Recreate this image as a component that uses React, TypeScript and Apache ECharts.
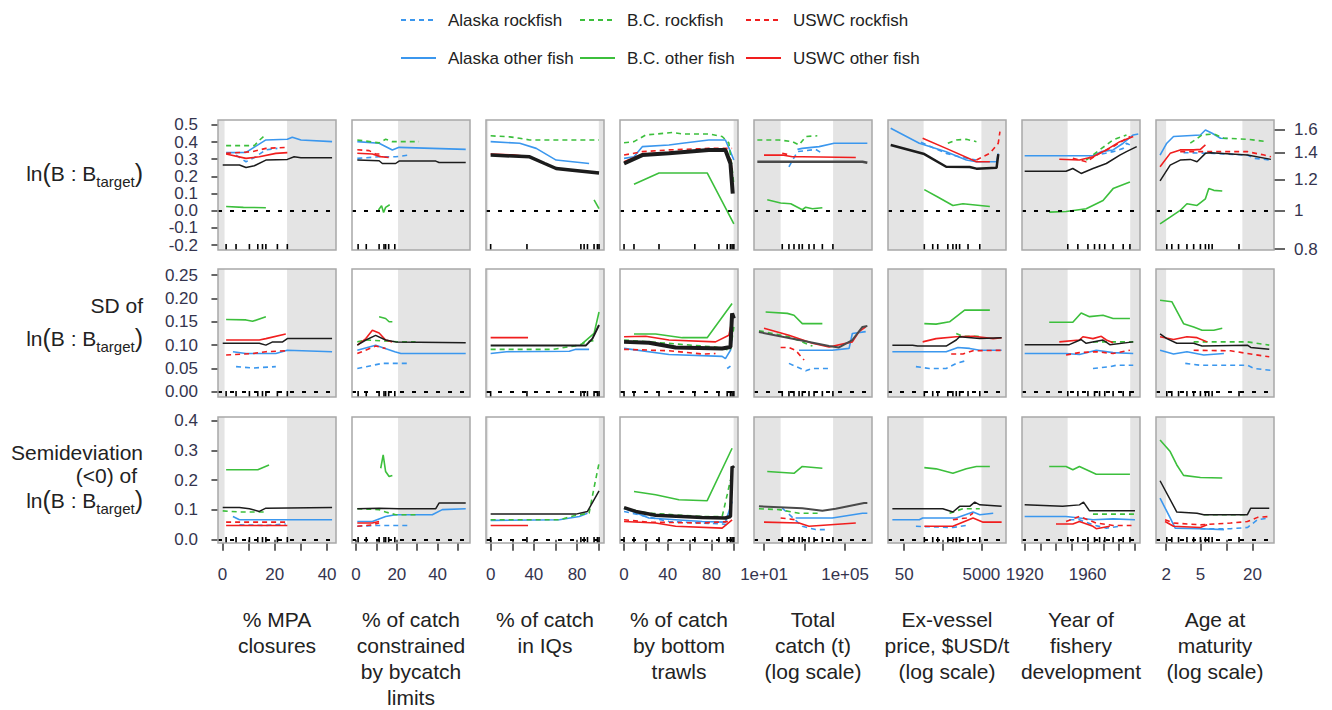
import { useEffect, useRef } from "react";
import * as echarts from "echarts";

type Pt = [number, number];
interface Panel { akR: Pt[]; akO: Pt[]; bcR: Pt[]; bcO: Pt[]; usR: Pt[]; usO: Pt[]; all: Pt[] }

// ---------- series meta ----------
const seriesKeys = ["akR", "akO", "bcR", "bcO", "usR", "usO"] as const;
const seriesNames = ["Alaska rockfish", "Alaska other fish", "B.C. rockfish", "B.C. other fish", "USWC rockfish", "USWC other fish"];
const seriesColors = ["#3b97ee", "#3b97ee", "#3cbf3c", "#3cbf3c", "#f01e1e", "#f01e1e"];
const seriesDashed = [true, false, true, false, true, false];

// ---------- columns (x variables) ----------
const xTitles = [
  "% MPA\nclosures",
  "% of catch\nconstrained\nby bycatch\nlimits",
  "% of catch\nin IQs",
  "% of catch\nby bottom\ntrawls",
  "Total\ncatch (t)\n(log scale)",
  "Ex-vessel\nprice, $USD/t\n(log scale)",
  "Year of\nfishery\ndevelopment",
  "Age at\nmaturity\n(log scale)",
];
const xMin = [-1.7, -2, -4.3, -3.7, 0.506, 1.281, 1918.3, 0.184];
const xMax = [43.4, 55.9, 104.9, 104.3, 6.33, 4.336, 1993.3, 1.55];
const xTickVals = [
  [0, 10, 20, 30, 40],
  [0, 10, 20, 30, 40, 50],
  [0, 20, 40, 60, 80, 100],
  [0, 20, 40, 60, 80, 100],
  [1, 3, 5],
  [Math.log10(50), Math.log10(500), Math.log10(5000)],
  [1920, 1930, 1940, 1950, 1960, 1970, 1980, 1990],
  [Math.log10(2), Math.log10(5), Math.log10(10), Math.log10(20)],
];
const xLabelVals = [
  [0, 20, 40],
  [0, 20, 40],
  [0, 40, 80],
  [0, 40, 80],
  [1, 5],
  [Math.log10(50), Math.log10(5000)],
  [1920, 1960],
  [Math.log10(2), Math.log10(5), Math.log10(20)],
];
const xLabelText = [
  ["0", "20", "40"],
  ["0", "20", "40"],
  ["0", "40", "80"],
  ["0", "40", "80"],
  ["1e+01", "1e+05"],
  ["50", "5000"],
  ["1920", "1960"],
  ["2", "5", "20"],
];
// grey shaded ranges (outside data support)
const shadeRanges: Pt[][] = [
  [[-99, 0.8], [24.7, 99]],
  [[20.6, 99]],
  [[-99, -2.3], [100.1, 999]],
  [[100.3, 999]],
  [[-99, 1.82], [4.41, 99]],
  [[-99, 2.203], [3.699, 99]],
  [[0, 1947.3], [1987.1, 9999]],
  [[-99, 0.301], [1.184, 99]],
];
// rug of observed x values
const rugVals = [
  [1.4, 5.2, 10.3, 13.5, 15.3, 16.6, 21, 24.8],
  [1, 5, 11.3, 13.7, 14.5, 16, 19],
  [0, 33.6, 83.5, 86.5, 89.6, 95.7, 98.8, 100.3],
  [0, 9.1, 32, 64.8, 86.8, 94.4, 97.4, 98.9, 100.5],
  [1.9, 2.23, 2.48, 2.73, 2.89, 3.22, 3.47, 3.88, 4.4],
  [2.221, 2.439, 2.569, 2.83, 2.961, 3.048, 3.135, 3.353, 3.657],
  [1947.4, 1953.8, 1960.2, 1964.4, 1967.6, 1970.9, 1976.2, 1982.6, 1986.9],
  [0.309, 0.367, 0.445, 0.542, 0.62, 0.698, 0.756, 0.795, 0.834, 1.145],
];

// ---------- rows (response metrics) ----------
const yMin = [-0.228, -0.011, -0.011];
const yMax = [0.528, 0.263, 0.412];
const yTickVals = [
  [-0.2, -0.1, 0, 0.1, 0.2, 0.3, 0.4, 0.5],
  [0, 0.05, 0.1, 0.15, 0.2, 0.25],
  [0, 0.1, 0.2, 0.3, 0.4],
];
const yDecimals = [1, 2, 1];
const rightTickVals = [0.8, 1, 1.2, 1.4, 1.6];
const rightTickText = ["0.8", "1", "1.2", "1.4", "1.6"];

// ---------- row 1: ln(B:Btarget) ----------
const mpaLn: Panel = {
  akR: [[5.2, 0.324], [9, 0.285], [12.2, 0.31], [16.6, 0.354], [21, 0.363]],
  akO: [[1.4, 0.338], [9, 0.34], [12.2, 0.37], [16.6, 0.412], [24.8, 0.416], [26.7, 0.428], [30, 0.412], [41.9, 0.402]],
  bcR: [[1.4, 0.379], [12.2, 0.379], [14.1, 0.41], [16, 0.435]],
  bcO: [[1.4, 0.025], [8, 0.02], [16.6, 0.018]],
  usR: [[1.4, 0.334], [11.5, 0.344], [16.6, 0.363], [24.8, 0.369]],
  usO: [[1.4, 0.33], [9, 0.305], [14.1, 0.314], [20.4, 0.334], [24.8, 0.338]],
  all: [[0.1, 0.266], [6.5, 0.266], [9, 0.252], [12.2, 0.262], [16.6, 0.295], [24.8, 0.299], [27.4, 0.314], [30, 0.309], [41.9, 0.309]],
};
const bycLn: Panel = {
  akR: [[0.6, 0.305], [11.3, 0.314], [19.4, 0.314], [26, 0.324]],
  akO: [[0.6, 0.402], [11.3, 0.393], [17.8, 0.354], [21.1, 0.369], [37.4, 0.363], [53.8, 0.357]],
  bcR: [[0.6, 0.412], [8, 0.4], [11.3, 0.395], [14.5, 0.416], [17.8, 0.402], [30.9, 0.402]],
  bcO: [[11, 0.005], [12.5, 0.03], [13.5, -0.01], [14.5, 0.02], [16.5, 0.035]],
  usR: [[0.6, 0.355], [6.4, 0.35], [9.6, 0.33], [13, 0.33]],
  usO: [[0.6, 0.335], [8, 0.33], [12, 0.315], [16, 0.31]],
  all: [[0.6, 0.295], [11.3, 0.291], [12.9, 0.275], [19.4, 0.275], [21.1, 0.289], [39.1, 0.289], [40.7, 0.281], [53.8, 0.281]],
};
const iqLn: Panel = {
  akR: [],
  akO: [[0, 0.402], [26.9, 0.393], [42.2, 0.363], [60.6, 0.295], [91.1, 0.275]],
  bcR: [[0, 0.436], [17.7, 0.43], [26.9, 0.422], [36.1, 0.412], [100.3, 0.412]],
  bcO: [[95.7, 0.064], [100.3, 0.012]],
  usR: [],
  usO: [[0, 0.33], [20, 0.325], [34.6, 0.315]],
  all: [[0, 0.324], [36.1, 0.314], [50, 0.275], [60.6, 0.246], [75.8, 0.236], [100.3, 0.22]],
};
const trawlLn: Panel = {
  akR: [],
  akO: [[0, 0.305], [9.1, 0.314], [16.7, 0.373], [41.1, 0.383], [53.3, 0.393], [77.6, 0.412], [92.8, 0.412], [97.4, 0.344], [100.5, 0.295]],
  bcR: [[0, 0.396], [9.1, 0.402], [19.8, 0.441], [44.1, 0.455], [53.3, 0.447], [77.6, 0.447], [89.8, 0.432], [95.9, 0.395], [98.9, 0.25], [100.5, 0.15]],
  bcO: [[9.1, 0.154], [32, 0.22], [76.1, 0.22], [100.5, -0.076]],
  usR: [[0, 0.324], [16.7, 0.344], [41.1, 0.354], [77.6, 0.363], [98.9, 0.363]],
  usO: [[0, 0.285], [16.7, 0.33], [77.6, 0.35], [92.8, 0.348], [97.4, 0.3], [98.9, 0.23]],
  all: [[0, 0.275], [16.7, 0.324], [41.1, 0.334], [77.6, 0.353], [92.8, 0.353], [97.4, 0.275], [99.5, 0.1]],
};
const catchLn: Panel = {
  akR: [[2.23, 0.256], [2.65, 0.344], [3.55, 0.357], [3.88, 0.334]],
  akO: [[2.65, 0.357], [2.89, 0.363], [3.72, 0.373], [4.46, 0.393], [6.1, 0.393]],
  bcR: [[0.67, 0.412], [1.74, 0.412], [2.4, 0.402], [2.73, 0.383], [3.06, 0.432], [3.63, 0.436]],
  bcO: [[1.16, 0.064], [1.82, 0.045], [2.32, 0.041], [2.89, 0.006], [3.06, 0.021], [3.39, 0.012], [3.88, 0.018]],
  usR: [[1.9, 0.334], [2.32, 0.324]],
  usO: [[1, 0.324], [1.9, 0.324], [2.4, 0.314], [2.89, 0.314], [5.53, 0.31]],
  all: [[0.67, 0.285], [5.86, 0.285], [6.1, 0.279]],
};
const priceLn: Panel = {
  akR: [[2.134, 0.398], [2.787, 0.334], [3.135, 0.314], [3.57, 0.295]],
  akO: [[1.351, 0.48], [2.091, 0.393], [2.787, 0.344], [3.309, 0.295], [3.57, 0.285], [4.092, 0.285], [4.136, 0.334]],
  bcR: [[2.83, 0.393], [3.048, 0.412], [3.309, 0.416], [3.57, 0.402]],
  bcO: [[2.221, 0.123], [2.569, 0.08], [2.961, 0.031], [3.222, 0.041], [3.918, 0.025]],
  usR: [[3.57, 0.295], [3.918, 0.334], [4.136, 0.393], [4.179, 0.461]],
  usO: [[2.178, 0.422], [2.787, 0.363], [3.57, 0.285], [3.918, 0.285]],
  all: [[1.351, 0.383], [2.221, 0.33], [2.787, 0.256], [3.396, 0.255], [3.57, 0.245], [4.092, 0.25], [4.136, 0.33]],
};
const yearLn: Panel = {
  akR: [[1963.4, 0.32], [1976.2, 0.344], [1982.6, 0.363], [1984.7, 0.393], [1989, 0.373]],
  akO: [[1920, 0.32], [1963.4, 0.32], [1968.7, 0.344], [1976.2, 0.354], [1982.6, 0.393], [1989, 0.441], [1992.2, 0.447]],
  bcR: [[1959.1, 0.295], [1967.6, 0.354], [1976.2, 0.412], [1984.7, 0.441]],
  bcO: [[1935.6, -0.008], [1946.3, -0.004], [1959.1, 0.012], [1969.8, 0.06], [1976.2, 0.129], [1986.9, 0.168]],
  usR: [[1950.6, 0.305], [1959.1, 0.285], [1967.6, 0.334], [1976.2, 0.373], [1986.9, 0.432]],
  usO: [[1942, 0.3], [1954.8, 0.295], [1963.4, 0.314], [1971.9, 0.354], [1980.5, 0.402], [1989, 0.432]],
  all: [[1920, 0.23], [1946.3, 0.23], [1950.6, 0.246], [1955.9, 0.217], [1963.4, 0.246], [1971.9, 0.275], [1980.5, 0.324], [1984.7, 0.344], [1991.2, 0.373]],
};
const ageLn: Panel = {
  akR: [[0.503, 0.338], [0.853, 0.334], [1.242, 0.324], [1.32, 0.305], [1.515, 0.295]],
  akO: [[0.231, 0.324], [0.309, 0.393], [0.387, 0.432], [0.698, 0.441], [0.756, 0.47], [0.834, 0.451], [0.931, 0.422], [1.009, 0.42]],
  bcR: [[0.581, 0.393], [0.717, 0.441], [0.853, 0.447], [0.97, 0.422], [1.242, 0.416], [1.476, 0.402]],
  bcO: [[0.231, -0.076], [0.348, -0.037], [0.464, 0.002], [0.542, 0.041], [0.659, 0.031], [0.756, 0.07], [0.795, 0.129], [0.853, 0.119], [0.951, 0.115]],
  usR: [[0.464, 0.344], [0.698, 0.344], [1.242, 0.344], [1.437, 0.324], [1.515, 0.314]],
  usO: [[0.231, 0.256], [0.348, 0.334], [0.464, 0.354], [0.62, 0.354], [0.698, 0.357], [0.756, 0.383]],
  all: [[0.231, 0.174], [0.348, 0.266], [0.464, 0.295], [0.581, 0.299], [0.659, 0.285], [0.756, 0.334], [0.814, 0.338], [1.242, 0.324], [1.515, 0.299]],
};

// ---------- row 2: SD of ln(B:Btarget) ----------
const mpaSd: Panel = {
  akR: [[5.2, 0.054], [11.5, 0.051], [20.4, 0.054]],
  akO: [[4, 0.086], [9, 0.082], [20.4, 0.082], [24.8, 0.089], [41.9, 0.086]],
  bcR: [],
  bcO: [[1.4, 0.155], [9, 0.154], [11.5, 0.151], [16.6, 0.161]],
  usR: [[1.4, 0.079], [11.5, 0.082], [16.6, 0.086], [24.8, 0.088]],
  usO: [[1.4, 0.111], [14.1, 0.111], [16.6, 0.114], [24.2, 0.124]],
  all: [[0.1, 0.104], [14.1, 0.104], [16.6, 0.1], [19.2, 0.107], [23, 0.107], [24.8, 0.114], [41.9, 0.114]],
};
const bycSd: Panel = {
  akR: [[0.6, 0.05], [12.9, 0.061], [26, 0.061]],
  akO: [[0.6, 0.089], [9.6, 0.1], [19, 0.086], [22, 0.082], [53.8, 0.082]],
  bcR: [[0.6, 0.107], [4.8, 0.111], [21.1, 0.107], [29.2, 0.107]],
  bcO: [[11.3, 0.161], [14.5, 0.157], [16.2, 0.15], [17.8, 0.15]],
  usR: [[0.6, 0.082], [9.6, 0.098], [14.5, 0.093]],
  usO: [[0.6, 0.1], [4.8, 0.114], [8, 0.132], [11.3, 0.126], [14.5, 0.111], [17.8, 0.107]],
  all: [[0.6, 0.1], [4.8, 0.111], [9.6, 0.121], [14.5, 0.111], [19.4, 0.107], [53.8, 0.105]],
};
const iqSd: Panel = {
  akR: [],
  akO: [[0, 0.082], [14.7, 0.086], [72.8, 0.087], [78.9, 0.091], [91.1, 0.091]],
  bcR: [[0, 0.091], [57.5, 0.091], [82, 0.1], [88, 0.107], [98.8, 0.111]],
  bcO: [[85, 0.104], [95.7, 0.125], [100.3, 0.171]],
  usR: [],
  usO: [[0, 0.116], [34.6, 0.116]],
  all: [[0, 0.099], [88, 0.099], [94.2, 0.114], [100.3, 0.143]],
};
const trawlSd: Panel = {
  akR: [[94.4, 0.05], [97.4, 0.055]],
  akO: [[0, 0.093], [41.1, 0.08], [89.8, 0.076], [92.8, 0.071], [97.4, 0.089], [98.9, 0.118]],
  bcR: [[0, 0.111], [22.8, 0.107], [83.7, 0.096], [97.4, 0.089], [100.5, 0.139]],
  bcO: [[9.1, 0.124], [28.9, 0.124], [53.3, 0.116], [76.1, 0.116], [98.9, 0.189]],
  usR: [[0, 0.091], [41.1, 0.088], [71.5, 0.081], [83.7, 0.082]],
  usO: [[0, 0.118], [19.8, 0.119], [41.1, 0.111], [83.7, 0.107], [95.9, 0.121], [98.9, 0.154]],
  all: [[0, 0.107], [22.8, 0.105], [47.2, 0.095], [89.8, 0.093], [97.4, 0.096], [98.9, 0.168], [100.5, 0.157]],
};
const catchSd: Panel = {
  akR: [[2.23, 0.061], [3.06, 0.045], [3.39, 0.05], [4.21, 0.05]],
  akO: [[2.73, 0.089], [4.37, 0.089], [5.2, 0.093], [5.36, 0.125], [6.02, 0.129]],
  bcR: [[0.75, 0.131], [2.23, 0.118], [3.39, 0.098]],
  bcO: [[1.08, 0.171], [2.15, 0.168], [2.48, 0.164], [2.89, 0.146], [3.88, 0.146]],
  usR: [[1.82, 0.095], [2.23, 0.095], [2.56, 0.089], [2.98, 0.068]],
  usO: [[1, 0.136], [2.23, 0.121], [3.39, 0.104], [4.21, 0.096], [5.36, 0.107], [5.69, 0.129], [6.02, 0.139]],
  all: [[0.75, 0.128], [2.73, 0.111], [4.21, 0.098], [4.7, 0.095], [5.36, 0.111], [5.86, 0.139], [6.1, 0.141]],
};
const priceSd: Panel = {
  akR: [[2.004, 0.054], [2.352, 0.05], [2.787, 0.05], [3.048, 0.061], [3.353, 0.068]],
  akO: [[1.394, 0.086], [2.787, 0.086], [3.091, 0.095], [3.396, 0.093], [3.657, 0.089], [4.223, 0.089]],
  bcR: [[3.048, 0.125], [3.222, 0.119], [3.657, 0.119]],
  bcO: [[2.221, 0.146], [2.526, 0.145], [2.874, 0.15], [3.265, 0.175], [3.918, 0.175]],
  usR: [[2.917, 0.081], [3.222, 0.081], [3.483, 0.088], [4.266, 0.089]],
  usO: [[2.178, 0.107], [2.526, 0.114], [3.048, 0.118], [3.483, 0.119], [4.005, 0.114], [4.223, 0.116]],
  all: [[1.394, 0.1], [1.917, 0.1], [2.047, 0.098], [2.787, 0.098], [3.048, 0.111], [3.135, 0.118], [3.657, 0.114], [4.223, 0.116]],
};
const yearSd: Panel = {
  akR: [[1963.4, 0.05], [1974.1, 0.054], [1978.3, 0.057], [1989, 0.057]],
  akO: [[1920, 0.082], [1946.3, 0.082], [1954.8, 0.08], [1965.5, 0.089], [1976.2, 0.084], [1989, 0.082]],
  bcR: [[1963.4, 0.107], [1976.2, 0.107], [1989, 0.107]],
  bcO: [[1935.6, 0.149], [1950.6, 0.149], [1955.9, 0.169], [1961.2, 0.161], [1969.8, 0.164], [1976.2, 0.157], [1986.9, 0.157]],
  usR: [[1946.3, 0.079], [1954.8, 0.084], [1965.5, 0.086], [1976.2, 0.082], [1986.9, 0.089]],
  usO: [[1942, 0.107], [1954.8, 0.111], [1957, 0.118], [1963.4, 0.114], [1968.7, 0.119], [1971.9, 0.111], [1976.2, 0.105]],
  all: [[1920, 0.101], [1948.4, 0.101], [1955.9, 0.112], [1959.1, 0.104], [1969.8, 0.111], [1974.1, 0.101], [1989, 0.107]],
};
const ageSd: Panel = {
  akR: [[0.523, 0.061], [0.698, 0.057], [1.242, 0.057], [1.32, 0.05], [1.515, 0.046]],
  akO: [[0.231, 0.089], [0.387, 0.081], [0.542, 0.086], [0.737, 0.079], [0.97, 0.082]],
  bcR: [[0.62, 0.107], [1.242, 0.107], [1.495, 0.1]],
  bcO: [[0.231, 0.196], [0.367, 0.193], [0.503, 0.146], [0.62, 0.139], [0.717, 0.132], [0.853, 0.132], [0.951, 0.136]],
  usR: [[0.62, 0.089], [1.048, 0.088], [1.242, 0.082], [1.495, 0.075]],
  usO: [[0.231, 0.118], [0.387, 0.112], [0.542, 0.118], [0.659, 0.116], [0.776, 0.107]],
  all: [[0.231, 0.124], [0.309, 0.114], [0.425, 0.104], [0.62, 0.104], [0.717, 0.098], [1.242, 0.1], [1.281, 0.095], [1.495, 0.091]],
};

// ---------- row 3: semideviation (<0) of ln(B:Btarget) ----------
const mpaSemi: Panel = {
  akR: [[6.5, 0.05], [16.6, 0.048], [24.2, 0.053]],
  akO: [[4, 0.078], [6.5, 0.067], [41.9, 0.067]],
  bcR: [[0.1, 0.097], [6.5, 0.093], [16.6, 0.093]],
  bcO: [[1.4, 0.235], [13.5, 0.235], [17.8, 0.251]],
  usR: [[1.4, 0.059], [24.8, 0.059]],
  usO: [[1.4, 0.048], [24.8, 0.048]],
  all: [[0.1, 0.108], [6.5, 0.108], [10.3, 0.104], [14.1, 0.095], [16.6, 0.106], [41.9, 0.108]],
};
const bycSemi: Panel = {
  akR: [[0.6, 0.045], [9.6, 0.048], [26, 0.048]],
  akO: [[0.6, 0.061], [8, 0.061], [14.5, 0.078], [19.4, 0.084], [37.4, 0.084], [42.3, 0.101], [53.8, 0.104]],
  bcR: [[0.6, 0.104], [11.3, 0.101], [14.5, 0.093], [19.4, 0.084], [30.9, 0.084]],
  bcO: [[12.1, 0.24], [13.3, 0.285], [14.5, 0.229], [16.2, 0.212], [17.8, 0.216]],
  usR: [[0.6, 0.045], [8, 0.05], [11.3, 0.056]],
  usO: [[0.6, 0.056], [8, 0.056], [11.3, 0.061]],
  all: [[0.6, 0.104], [11.3, 0.106], [21.1, 0.104], [39.1, 0.104], [40.7, 0.123], [53.8, 0.123]],
};
const iqSemi: Panel = {
  akR: [],
  akO: [[0, 0.065], [63.6, 0.067], [82, 0.078], [89.6, 0.089]],
  bcR: [[0, 0.067], [63.6, 0.067], [78.9, 0.082], [91.1, 0.089], [95.7, 0.175], [100.3, 0.257]],
  bcO: [],
  usR: [],
  usO: [[0, 0.048], [34.6, 0.048]],
  all: [[0, 0.086], [78.9, 0.086], [89.6, 0.095], [100.3, 0.164]],
};
const trawlSemi: Panel = {
  akR: [[0, 0.095], [41.1, 0.061], [89.8, 0.053], [95.9, 0.05]],
  akO: [[0, 0.106], [22.8, 0.073], [71.5, 0.061], [92.8, 0.059], [98.9, 0.128]],
  bcR: [[0, 0.106], [22.8, 0.089], [71.5, 0.078], [89.8, 0.078], [94.4, 0.151], [97.4, 0.201]],
  bcO: [[9.1, 0.162], [28.9, 0.151], [50.2, 0.134], [76.1, 0.131], [98.9, 0.307]],
  usR: [[0, 0.067], [22.8, 0.059], [71.5, 0.056], [95.9, 0.061]],
  usO: [[0, 0.061], [28.9, 0.056], [47.2, 0.045], [89.8, 0.039], [98.9, 0.067]],
  all: [[0, 0.108], [10.7, 0.095], [28.9, 0.082], [71.5, 0.075], [92.8, 0.073], [97.4, 0.078], [98.9, 0.246], [100.5, 0.24]],
};
const catchSemi: Panel = {
  akR: [[1.9, 0.106], [2.89, 0.045], [3.55, 0.034], [4.13, 0.034]],
  akO: [[2.56, 0.073], [4.37, 0.073], [5.86, 0.089], [6.1, 0.089]],
  bcR: [[0.75, 0.104], [1.74, 0.101], [2.73, 0.089], [3.72, 0.089]],
  bcO: [[1.16, 0.229], [2.48, 0.223], [2.89, 0.246], [3.88, 0.24]],
  usR: [[1.82, 0.073], [2.56, 0.067]],
  usO: [[1, 0.059], [2.73, 0.056], [3.22, 0.045], [5.53, 0.056]],
  all: [[0.75, 0.112], [2.89, 0.106], [3.88, 0.097], [4.54, 0.104], [5.94, 0.123], [6.1, 0.123]],
};
const priceSemi: Panel = {
  akR: [[2.004, 0.045], [2.961, 0.041], [3.309, 0.048]],
  akO: [[1.394, 0.067], [2.091, 0.067], [2.178, 0.073], [3.048, 0.073], [3.483, 0.093], [3.657, 0.084], [4.005, 0.089]],
  bcR: [[2.874, 0.089], [3.222, 0.104], [3.657, 0.104]],
  bcO: [[2.221, 0.242], [2.526, 0.238], [2.961, 0.223], [3.309, 0.238], [3.57, 0.246], [3.918, 0.246]],
  usR: [[2.961, 0.067], [3.309, 0.073], [3.483, 0.089]],
  usO: [[2.221, 0.045], [2.961, 0.045], [3.483, 0.073], [3.744, 0.059], [4.223, 0.059]],
  all: [[1.394, 0.104], [2.7, 0.104], [2.961, 0.093], [3.135, 0.112], [3.396, 0.112], [3.527, 0.126], [3.657, 0.117], [4.223, 0.112]],
};
const yearSemi: Panel = {
  akR: [[1948.4, 0.067], [1954.8, 0.067], [1963.4, 0.05], [1971.9, 0.039], [1980.5, 0.045]],
  akO: [[1920, 0.078], [1946.3, 0.078], [1954.8, 0.073], [1963.4, 0.067], [1976.2, 0.07], [1990.1, 0.067]],
  bcR: [[1963.4, 0.086], [1990.1, 0.086]],
  bcO: [[1935.6, 0.246], [1946.3, 0.246], [1950.6, 0.235], [1954.8, 0.246], [1965.5, 0.22], [1986.9, 0.22]],
  usR: [[1946.3, 0.061], [1954.8, 0.078], [1965.5, 0.056], [1976.2, 0.048], [1987.9, 0.048]],
  usO: [[1939.9, 0.053], [1950.6, 0.053], [1954.8, 0.061], [1963.4, 0.045], [1965.5, 0.037], [1974.1, 0.045]],
  all: [[1920, 0.117], [1944.1, 0.112], [1954.8, 0.117], [1957.4, 0.126], [1961.2, 0.097], [1990.1, 0.097]],
};
const ageSemi: Panel = {
  akR: [[0.698, 0.037], [1.048, 0.037], [1.242, 0.041], [1.359, 0.067], [1.495, 0.073]],
  akO: [[0.231, 0.14], [0.348, 0.073], [0.406, 0.039], [0.698, 0.037], [0.97, 0.034]],
  bcR: [[0.737, 0.084], [1.242, 0.084]],
  bcO: [[0.231, 0.335], [0.348, 0.296], [0.425, 0.251], [0.503, 0.216], [0.698, 0.209], [0.951, 0.207]],
  usR: [[0.289, 0.067], [0.387, 0.056], [0.698, 0.05], [1.048, 0.056], [1.242, 0.061], [1.359, 0.075], [1.495, 0.078]],
  usO: [[0.289, 0.061], [0.387, 0.045], [0.698, 0.041], [0.776, 0.05]],
  all: [[0.231, 0.198], [0.425, 0.093], [0.659, 0.089], [0.737, 0.084], [1.242, 0.084], [1.281, 0.106], [1.495, 0.106]],
};

const panelRows: Panel[][] = [
  [mpaLn, bycLn, iqLn, trawlLn, catchLn, priceLn, yearLn, ageLn],
  [mpaSd, bycSd, iqSd, trawlSd, catchSd, priceSd, yearSd, ageSd],
  [mpaSemi, bycSemi, iqSemi, trawlSemi, catchSemi, priceSemi, yearSemi, ageSemi],
];
const blackWidth = [
  [1.5, 1.5, 3.5, 4, 2.5, 2.5, 1.5, 1.5],
  [1.5, 1.5, 2, 4, 2, 1.5, 1.5, 1.5],
  [1.5, 1.5, 1.5, 3.5, 2, 1.5, 1.5, 1.5],
];

// ---------- layout ----------
const FONT = "'Liberation Sans', Arial, Helvetica, sans-serif";
const TICK_COLOR = "#34344e";
const colLeft = [218, 352, 486, 620, 754, 888, 1022, 1156];
const colWidth = 118;
const rowTop = [120, 269, 417];
const rowHeight = [130, 128, 126];
const legendLeft = [395, 574, 740];

function lookup(vals: number[], text: string[], v: number) {
  const i = vals.findIndex((u) => Math.abs(u - v) < 1e-6);
  return i >= 0 ? text[i] : "";
}

function buildOption() {
  const grid: any[] = [];
  const xAxis: any[] = [];
  const yAxis: any[] = [];
  const series: any[] = [];
  const graphic: any[] = [];
  const labelStyle = { fontSize: 17, fontFamily: FONT, color: TICK_COLOR };

  for (let r = 0; r < 3; r++) {
    for (let c = 0; c < 8; c++) {
      const g = r * 8 + c;
      grid.push({ left: colLeft[c], top: rowTop[r], width: colWidth, height: rowHeight[r], show: false });
      xAxis.push({
        type: "value", gridIndex: g, min: xMin[c], max: xMax[c],
        axisLine: { show: false }, splitLine: { show: false },
        axisTick: { show: r === 2, customValues: xTickVals[c], length: 11, lineStyle: { color: "#333", width: 1.5 } },
        axisLabel: {
          show: r === 2, customValues: xLabelVals[c], margin: 23, ...labelStyle,
          formatter: (v: number) => lookup(xLabelVals[c], xLabelText[c], v),
        },
      });
      yAxis.push({
        type: "value", gridIndex: g, min: yMin[r], max: yMax[r],
        axisLine: { show: false }, splitLine: { show: false },
        axisTick: { show: c === 0, customValues: yTickVals[r], length: 11, lineStyle: { color: "#333", width: 1.5 } },
        axisLabel: {
          show: c === 0, customValues: yTickVals[r], margin: 20, ...labelStyle,
          formatter: (v: number) => v.toFixed(yDecimals[r]),
        },
      });

      // grey shading
      series.push({
        type: "custom", xAxisIndex: g, yAxisIndex: g, z: 1, silent: true,
        data: shadeRanges[c].map(([a, b]) => [Math.max(a, xMin[c]), Math.min(b, xMax[c]), yMin[r], yMax[r]]),
        encode: { x: [0, 1], y: [2, 3] },
        renderItem: (_p: any, api: any) => {
          const p0 = api.coord([api.value(0), api.value(3)]);
          const p1 = api.coord([api.value(1), api.value(2)]);
          return { type: "rect", shape: { x: p0[0], y: p0[1], width: p1[0] - p0[0], height: p1[1] - p0[1] }, style: { fill: "#e4e4e4" } };
        },
      });

      const panel = panelRows[r][c];
      seriesKeys.forEach((k, i) => {
        const d = panel[k];
        if (!d.length) return;
        series.push({
          type: "line", name: seriesNames[i], xAxisIndex: g, yAxisIndex: g, data: d,
          symbol: "none", showSymbol: false, silent: true, z: 3, clip: true,
          lineStyle: { color: seriesColors[i], width: 1.6, type: seriesDashed[i] ? [5, 4] : "solid" },
          itemStyle: { color: seriesColors[i] },
        });
      });
      series.push({
        type: "line", name: "All", xAxisIndex: g, yAxisIndex: g, data: panel.all,
        symbol: "none", showSymbol: false, silent: true, z: 4, clip: true,
        lineStyle: { color: c === 4 ? "#4a4a4a" : "#1c1c1c", width: blackWidth[r][c] },
        itemStyle: { color: "#1c1c1c" },
        markLine: {
          silent: true, symbol: ["none", "none"], label: { show: false },
          lineStyle: { color: "#000", type: [4, 8], width: 2 },
          data: [{ yAxis: 0 }],
        },
      });

      // rug
      series.push({
        type: "custom", xAxisIndex: g, yAxisIndex: g, z: 5, silent: true, clip: false,
        data: rugVals[c].map((v) => [v, yMin[r]]),
        encode: { x: 0, y: 1 },
        renderItem: (_p: any, api: any) => {
          const p = api.coord([api.value(0), api.value(1)]);
          return { type: "line", shape: { x1: p[0], y1: p[1], x2: p[0], y2: p[1] - 6 }, style: { stroke: "#000", lineWidth: 1.6 } };
        },
      });

      graphic.push({
        type: "rect", silent: true, z: 100,
        shape: { x: colLeft[c], y: rowTop[r], width: colWidth, height: rowHeight[r] },
        style: { fill: "none", stroke: "#a8a8a8", lineWidth: 1.5 },
      });
    }
  }

  // right axis (ratio scale) on the top-right panel
  yAxis.push({
    type: "value", gridIndex: 7, position: "right", min: yMin[0], max: yMax[0],
    axisLine: { show: false }, splitLine: { show: false },
    axisTick: { show: true, customValues: rightTickVals.map((v) => Math.log(v)), length: 11, lineStyle: { color: "#333", width: 1.5 } },
    axisLabel: {
      show: true, customValues: rightTickVals.map((v) => Math.log(v)), margin: 20, ...labelStyle,
      formatter: (v: number) => lookup(rightTickVals.map((u) => Math.log(u)), rightTickText, v),
    },
  });

  // x titles
  xTitles.forEach((t, c) => {
    graphic.push({
      type: "text", silent: true, x: colLeft[c] + colWidth / 2, y: 606,
      style: { text: t, fontSize: 21, fontFamily: FONT, fill: "#222", align: "center", verticalAlign: "top", lineHeight: 26 },
    });
  });

  // row labels
  const lnRich = {
    a: { fontSize: 21, fontFamily: FONT, fill: "#222" },
    p: { fontSize: 25, fontFamily: FONT, fill: "#222" },
    s: { fontSize: 15, fontFamily: FONT, fill: "#222", padding: [17, 0, 0, 0] },
  };
  const lnText = "{a|ln}{p|(}{a|B : B}{s|target}{p|)}";
  const rowLabels = [
    { text: lnText, x: 143, y: 173, rich: true },
    { text: "SD of", x: 143, y: 305, rich: false },
    { text: lnText, x: 143, y: 338, rich: true },
    { text: "Semideviation", x: 143, y: 452, rich: false },
    { text: "(<0) of", x: 137, y: 475, rich: false },
    { text: lnText, x: 143, y: 500, rich: true },
  ];
  rowLabels.forEach((l) => {
    graphic.push({
      type: "text", silent: true, x: l.x, y: l.y,
      style: l.rich
        ? { text: l.text, rich: lnRich, align: "right", verticalAlign: "middle" }
        : { text: l.text, fontSize: 21, fontFamily: FONT, fill: "#222", align: "right", verticalAlign: "middle" },
    });
  });

  const legendBase = {
    orient: "vertical", top: 5, itemWidth: 35, itemHeight: 14, itemGap: 18, selectedMode: false,
    itemStyle: { opacity: 0 },
    textStyle: { fontSize: 17, fontFamily: FONT, color: "#222", lineHeight: 20, padding: [0, 0, 0, 7] },
  };
  const legend = [0, 1, 2].map((i) => ({
    ...legendBase, left: legendLeft[i], data: [seriesNames[2 * i], seriesNames[2 * i + 1]],
  }));

  return { animation: false, backgroundColor: "#fff", grid, xAxis, yAxis, series, graphic, legend };
}

export default function App() {
  const ref = useRef<HTMLDivElement>(null);
  useEffect(() => {
    if (!ref.current) return;
    const chart = echarts.init(ref.current, undefined, { renderer: "svg" });
    chart.setOption(buildOption() as any);
    return () => chart.dispose();
  }, []);
  return <div ref={ref} style={{ position: "fixed", left: 0, top: 0, width: 1332, height: 710, background: "#fff" }} />;
}
